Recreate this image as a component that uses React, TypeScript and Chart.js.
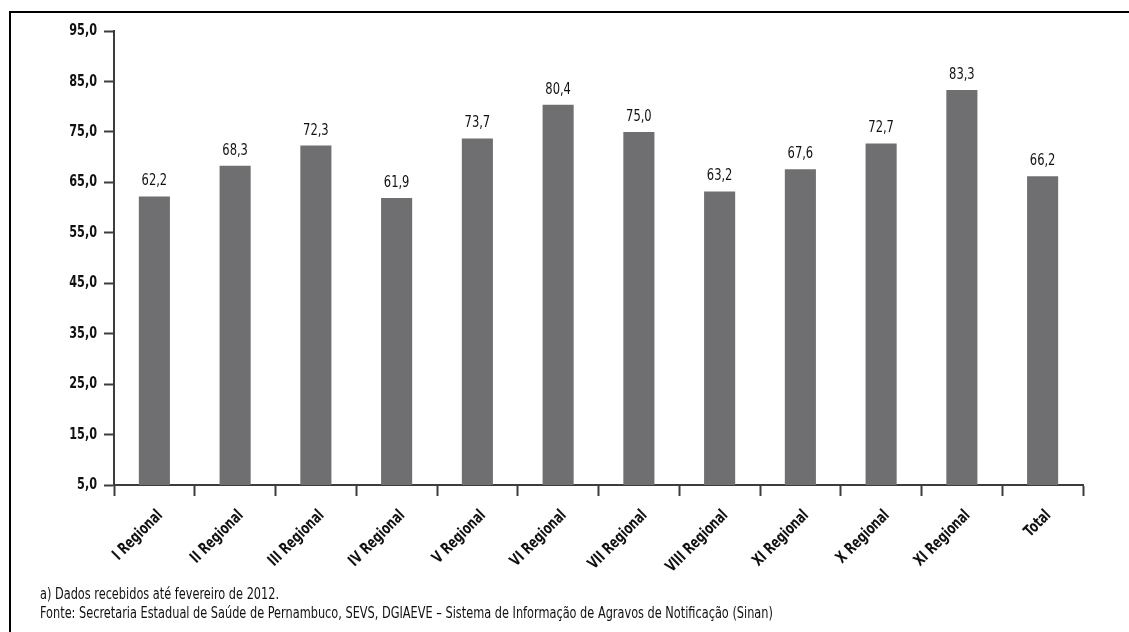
import React, { useEffect, useRef } from "react";
import { Chart, registerables } from "chart.js";

Chart.register(...registerables);

const categories = [
  "I Regional",
  "II Regional",
  "III Regional",
  "IV Regional",
  "V Regional",
  "VI Regional",
  "VII Regional",
  "VIII Regional",
  "XI Regional",
  "X Regional",
  "XI Regional",
  "Total",
];

const values = [62.2, 68.3, 72.3, 61.9, 73.7, 80.4, 75.0, 63.2, 67.6, 72.7, 83.3, 66.2];

const yMin = 5;
const yMax = 95;
const yStep = 10;

const footnotes = [
  "a) Dados recebidos até fevereiro de 2012.",
  "Fonte: Secretaria Estadual de Saúde de Pernambuco, SEVS, DGIAEVE – Sistema de Informação de Agravos de Notificação (Sinan)",
];

const FONT = "'Liberation Sans Narrow', 'DejaVu Sans Condensed', 'Arial Narrow', sans-serif";
const AXIS = "#3c3c3c";
const BAR = "#6f6f71";
const INK = "#111";

const fmt = (v: number) => v.toFixed(1).replace(".", ",");

// Draws text squeezed horizontally (along its own direction) for a condensed look.
function squeezedText(
  ctx: CanvasRenderingContext2D,
  text: string,
  x: number,
  y: number,
  opts: { font: string; align: CanvasTextAlign; baseline: CanvasTextBaseline; squeeze: number; angle?: number }
) {
  ctx.save();
  ctx.translate(x, y);
  if (opts.angle) ctx.rotate(opts.angle);
  ctx.scale(opts.squeeze, 1);
  ctx.font = opts.font;
  ctx.fillStyle = INK;
  ctx.textAlign = opts.align;
  ctx.textBaseline = opts.baseline;
  ctx.fillText(text, 0, 0);
  ctx.restore();
}

// Axis labels and value labels, placed from the chart's own scales.
const labelsPlugin = {
  id: "condensedLabels",
  afterDraw(chart: any) {
    const { ctx, chartArea } = chart;
    const xScale = chart.scales.x;
    const yScale = chart.scales.y;

    // y tick labels
    yScale.ticks.forEach((t: any) => {
      const py = yScale.getPixelForValue(t.value);
      squeezedText(ctx, fmt(t.value), chartArea.left - 17, py, {
        font: `bold 16px ${FONT}`,
        align: "right",
        baseline: "middle",
        squeeze: 0.78,
      });
    });

    // rotated category labels
    categories.forEach((label, i) => {
      const px = xScale.getPixelForValue(i);
      squeezedText(ctx, label, px + 6, chartArea.bottom + 28, {
        font: `bold 16px ${FONT}`,
        align: "right",
        baseline: "middle",
        squeeze: 0.78,
        angle: -Math.PI / 4,
      });
    });

    // value labels above bars
    const meta = chart.getDatasetMeta(0);
    meta.data.forEach((bar: any, i: number) => {
      const v = chart.data.datasets[0].data[i] as number;
      squeezedText(ctx, fmt(v), bar.x, bar.y - 11, {
        font: `16px ${FONT}`,
        align: "center",
        baseline: "alphabetic",
        squeeze: 0.8,
      });
    });
  },
};

export default function App() {
  const canvasRef = useRef<HTMLCanvasElement>(null);

  useEffect(() => {
    if (!canvasRef.current) return;
    const chart = new Chart(canvasRef.current, {
      type: "bar",
      data: {
        labels: categories,
        datasets: [
          {
            data: values,
            backgroundColor: BAR,
            borderWidth: 0,
            categoryPercentage: 1,
            barPercentage: 0.385,
          },
        ],
      },
      plugins: [labelsPlugin],
      options: {
        animation: false,
        responsive: false,
        maintainAspectRatio: false,
        layout: { padding: { left: 0, top: 31, right: 46, bottom: 0 } },
        plugins: {
          legend: { display: false },
          tooltip: { enabled: false },
        },
        scales: {
          x: {
            grid: {
              offset: true,
              drawOnChartArea: false,
              drawTicks: true,
              tickLength: 11,
              tickWidth: 2,
              tickColor: AXIS,
            },
            border: { display: true, color: AXIS, width: 2 },
            ticks: { display: false, autoSkip: false },
            afterFit(scale: any) {
              scale.height = 147;
            },
          },
          y: {
            min: yMin,
            max: yMax,
            grid: {
              drawOnChartArea: false,
              drawTicks: true,
              tickLength: 10,
              tickWidth: 2,
              tickColor: AXIS,
            },
            border: { display: true, color: AXIS, width: 2 },
            ticks: { display: false, stepSize: yStep },
            afterFit(scale: any) {
              scale.width = 114;
            },
          },
        },
      },
    });
    return () => chart.destroy();
  }, []);

  return (
    <div
      style={{
        position: "fixed",
        left: 0,
        top: 0,
        width: 1129,
        height: 632,
        overflow: "hidden",
        background: "#fff",
      }}
    >
      <div
        style={{
          position: "absolute",
          left: 9,
          top: 11,
          width: 1300,
          height: 800,
          borderLeft: "2px solid #000",
          borderTop: "2px solid #000",
        }}
      />
      <canvas ref={canvasRef} width={1129} height={632} style={{ position: "absolute", left: 0, top: 0 }} />
      {footnotes.map((t, i) => (
        <div
          key={i}
          style={{
            position: "absolute",
            left: 40,
            top: 585 + i * 19,
            fontFamily: FONT,
            fontSize: 15,
            lineHeight: "18px",
            color: INK,
            whiteSpace: "nowrap",
            transform: "scaleX(0.84)",
            transformOrigin: "0 0",
          }}
        >
          {t}
        </div>
      ))}
    </div>
  );
}
